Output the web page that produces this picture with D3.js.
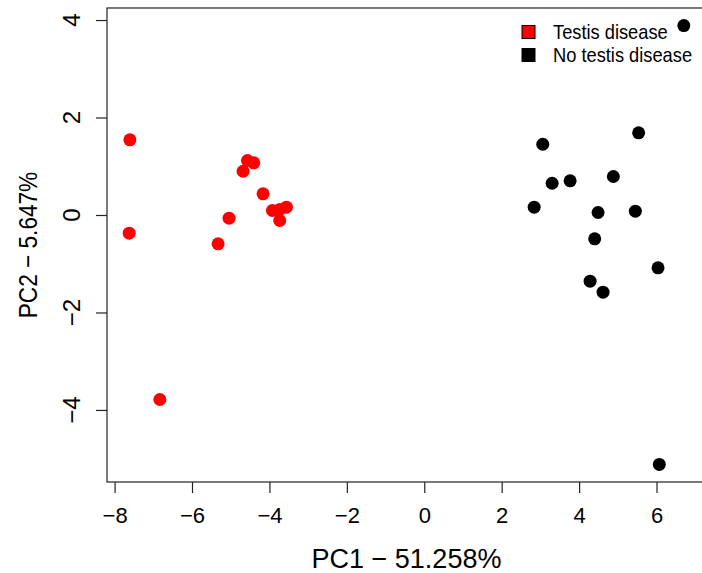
<!DOCTYPE html>
<html>
<head>
<meta charset="utf-8">
<script src="https://cdn.jsdelivr.net/npm/d3@7"></script>
<style>
html,body{margin:0;padding:0;background:#fff;}
svg{display:block;font-family:"Liberation Sans",Arial,Helvetica,sans-serif;}
</style>
</head>
<body>
<svg id="chart" width="702" height="573"></svg>
<script>
// Data
const testisPC1 = [-7.605,-7.623,-4.568,-4.405,-4.681,-4.165,-5.043,-5.326,-3.561,-3.734,-3.923,-3.734,-6.831];
const testisPC2 = [1.543,-0.373,1.118,1.071,0.898,0.435,-0.066,-0.591,0.160,0.113,0.092,-0.113,-3.785];
const noTestisPC1 = [5.538,3.061,3.303,3.768,4.885,2.839,4.490,5.453,4.403,6.039,4.284,4.619,6.705,6.072];
const noTestisPC2 = [1.686,1.452,0.652,0.702,0.790,0.160,0.051,0.078,-0.488,-1.083,-1.358,-1.584,3.887,-5.118];
const xTicks = [-8,-6,-4,-2,0,2,4,6];
const yTicks = [-4,-2,0,2,4];
const legendLabels = ["Testis disease","No testis disease"];
const groupColors = ["#ff0000","#000000"];
const xTitle = "PC1 \u2212 51.258%";
const yTitle = "PC2 \u2212 5.647%";

const svg = d3.select("#chart");
const L = 107, R = 706, T = 8, B = 482;

const allX = testisPC1.concat(noTestisPC1);
const allY = testisPC2.concat(noTestisPC2);
function padded(ext){ const r = ext[1]-ext[0]; return [ext[0]-0.04*r, ext[1]+0.04*r]; }
const x = d3.scaleLinear().domain(padded(d3.extent(allX))).range([L, R]);
const y = d3.scaleLinear().domain(padded(d3.extent(allY))).range([B, T]);

// box
svg.append("rect").attr("x", L).attr("y", T).attr("width", R-L).attr("height", B-T)
  .attr("fill","none").attr("stroke","#222").attr("stroke-width",1.2);

// x axis
const gx = svg.append("g").attr("transform", `translate(0,${B})`)
  .call(d3.axisBottom(x).tickValues(xTicks).tickSize(11).tickPadding(14).tickFormat(d3.format("d")));
gx.select(".domain").remove();
gx.selectAll("line").attr("stroke","#222").attr("stroke-width",1.2);
gx.selectAll("text").attr("font-size",22).attr("fill","#000")
  .attr("font-family","Liberation Sans, Arial, sans-serif");

// y axis
const gy = svg.append("g").attr("transform", `translate(${L},0)`)
  .call(d3.axisLeft(y).tickValues(yTicks).tickSize(11).tickFormat(""));
gy.select(".domain").remove();
gy.selectAll("line").attr("stroke","#222").attr("stroke-width",1.2);
svg.append("g").selectAll("text").data(yTicks).join("text")
  .attr("transform", d => `translate(80,${y(d)}) rotate(-90)`)
  .attr("text-anchor","middle").attr("font-size",24).attr("fill","#000")
  .text(d => d3.format("d")(d));

// titles
svg.append("text").attr("x", (L+R)/2).attr("y", 568).attr("text-anchor","middle")
  .attr("font-size",27).attr("fill","#000").text(xTitle);
svg.append("text").attr("transform", `translate(37,${(T+B)/2}) rotate(-90) scale(0.87,1)`)
  .attr("text-anchor","middle").attr("font-size",26).attr("fill","#000").text(yTitle);

// points
const pts = svg.append("g");
pts.selectAll("circle.t").data(d3.range(testisPC1.length)).join("circle").attr("class","t")
  .attr("cx", i => x(testisPC1[i])).attr("cy", i => y(testisPC2[i])).attr("r",6.5)
  .attr("fill", groupColors[0]);
pts.selectAll("circle.n").data(d3.range(noTestisPC1.length)).join("circle").attr("class","n")
  .attr("cx", i => x(noTestisPC1[i])).attr("cy", i => y(noTestisPC2[i])).attr("r",6.5)
  .attr("fill", groupColors[1]);

// legend
const lg = svg.append("g");
legendLabels.forEach((lab, i) => {
  const cy = 32 + i*23;
  lg.append("rect").attr("x",522).attr("y",cy-6.5).attr("width",13).attr("height",13)
    .attr("fill",groupColors[i]).attr("stroke","#000").attr("stroke-width",1);
  lg.append("text").attr("transform", `translate(553,${cy+7}) scale(0.87,1)`)
    .attr("font-size",21).attr("fill","#000").text(lab);
});
</script>
</body>
</html>
